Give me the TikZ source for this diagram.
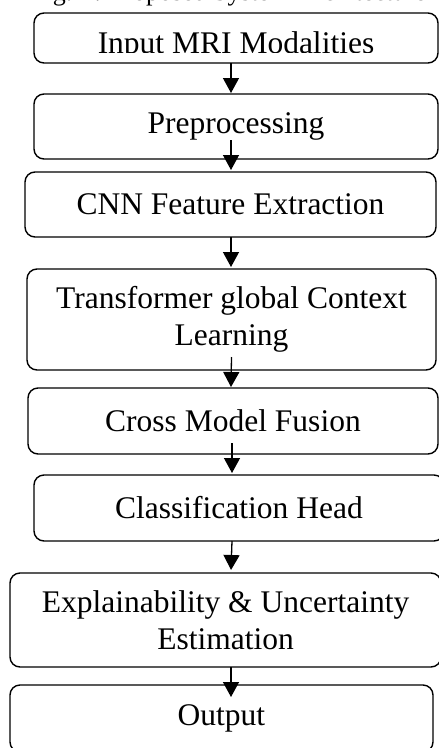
\documentclass[tikz,border=0pt]{standalone}
\usepackage{fontspec}
\setmainfont{Liberation Serif}
\usetikzlibrary{arrows.meta}
\tikzset{
  archbox/.style  = {draw=black, rounded corners=10pt, line width=1.4pt,
                     inner sep=0pt, outer sep=0pt, align=center,
                     font=\fontsize{31.5}{37}\selectfont},
  archflow/.style = {draw=black, line width=1.3pt,
                     -{Triangle[length=15pt, width=16pt]}},
  archttl/.style  = {inner sep=0pt, anchor=base west,
                     font=\fontsize{26}{30}\selectfont},
}

\begin{document}
\begin{tikzpicture}[x=1pt, y=-1pt]
    \useasboundingbox (0,0) rectangle (439,748);
    \node[archttl] (ttl) at (31,0.8) {Fig. 1: Proposed System Architecture};

    \node[archbox, minimum width=404pt, minimum height=50pt] (inp) at (236,38) {};
    \begin{scope}
        \clip (inp.north west) rectangle ([yshift=11pt]inp.south east);
        \node[archbox, draw=none, anchor=base] (inptxt) at (236,53) {Input MRI Modalities};
    \end{scope}
    \node[archbox, minimum width=404pt, minimum height=65pt] (pre) at (236,126.5) {Preprocessing};
    \node[archbox, minimum width=411pt, minimum height=65pt] (cnn) at (230.5,204.5) {CNN Feature Extraction};
    \node[archbox, minimum width=409pt, minimum height=101pt] (trf) at (231.5,319.5)
         {Transformer global Context\\Learning};
    \node[archbox, minimum width=410pt, minimum height=66pt] (cmf) at (233,421) {Cross Model Fusion};
    \node[archbox, minimum width=410pt, minimum height=66pt] (cls) at (239,508) {Classification Head};
    \node[archbox, minimum width=431pt, minimum height=94pt] (exp) at (225.5,620)
         {Explainability \& Uncertainty\\Estimation};
    \node[archbox, minimum width=423pt, minimum height=67pt] (out) at (221.5,718.5) {Output};

    \draw[archflow] ([xshift=-5pt]inp.south) -- ([xshift=-5pt, yshift=1pt]pre.north);
    \draw[archflow] ([xshift=-5pt, yshift=19pt]pre.south) -- ([xshift=0.5pt, yshift=2pt]cnn.north);
    \draw[archflow] ([xshift=0.5pt]cnn.south) -- ([xshift=-0.5pt, yshift=2pt]trf.north);
    \draw[archflow] ([yshift=13pt]trf.south) -- ([xshift=-2pt, yshift=1pt]cmf.north);
    \draw[archflow] ([xshift=-1pt, yshift=11pt]cmf.south) -- ([xshift=-7pt, yshift=2pt]cls.north);
    \draw[archflow] ([xshift=-7pt]cls.south) -- ([xshift=5.5pt, yshift=3pt]exp.north);
    \draw[archflow] ([xshift=5.5pt]exp.south) -- ([xshift=9.5pt, yshift=-12pt]out.north);
\end{tikzpicture}
\end{document}
